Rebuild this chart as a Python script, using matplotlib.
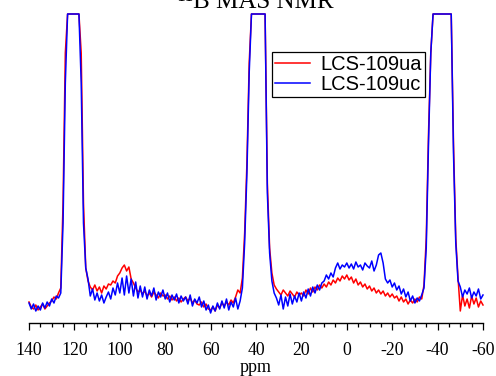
import numpy as np
import matplotlib
matplotlib.use("Agg")
import matplotlib.pyplot as plt
from matplotlib.ticker import MultipleLocator

plt.rcParams['axes.unicode_minus'] = False

# chemical shift axis, 1 ppm steps from 140 to -60
ppm = np.arange(140, -61, -1)

# LCS-109ua (red), intensities in arbitrary units (plot clipped at 309)
ua = [
    21, 16, 14, 18, 13, 16, 19, 14, 17, 20,            # 140..131
    22, 26, 24, 30, 35, 120, 270, 330, 2000, 3000,     # 130..121
    3000, 2000, 380, 270, 120, 55, 42, 36, 33, 38,     # 120..111
    32, 36, 30, 37, 34, 39, 38, 42, 40, 47,            # 110..101
    50, 55, 58, 52, 56, 44, 40, 35, 31, 33,            # 100..91
    29, 32, 27, 30, 26, 31, 28, 25, 30, 27,            # 90..81
    28, 24, 27, 23, 26, 22, 25, 21, 24, 26,            # 80..71
    22, 25, 20, 23, 19, 18, 21, 16, 19, 14,            # 70..61
    13, 16, 12, 18, 15, 20, 17, 21, 18, 23,            # 60..51
    20, 26, 33, 30, 45, 90, 160, 260, 330, 2000,       # 50..41
    3000, 3000, 2000, 1000, 310, 140, 75, 50, 38, 34,  # 40..31
    31, 28, 33, 30, 27, 32, 29, 26, 31, 28,            # 30..21
    30, 27, 33, 29, 35, 31, 36, 33, 38, 35,            # 20..11
    39, 36, 41, 38, 43, 40, 45, 42, 47, 44,            # 10..1
    48, 43, 46, 40, 44, 38, 41, 36, 39, 34,            # 0..-9
    37, 32, 35, 30, 33, 29, 32, 27, 30, 26,            # -10..-19
    29, 25, 27, 22, 26, 21, 24, 19, 23, 20,            # -20..-29
    24, 21, 26, 24, 38, 85, 190, 270, 500, 3000,       # -30..-39
    3000, 3000, 3000, 3000, 3000, 2000, 320, 180, 85, 45,  # -40..-49
    12, 28, 17, 24, 15, 27, 19, 25, 16, 22,            # -50..-59
    18,                                                # -60
]

# LCS-109uc (blue)
uc = [
    20, 14, 19, 12, 17, 13, 20, 15, 21, 17,            # 140..131
    24, 20, 27, 25, 30, 100, 240, 320, 2000, 3000,     # 130..121
    3000, 2000, 350, 240, 100, 55, 44, 27, 34, 23,     # 120..111
    30, 22, 28, 20, 26, 31, 24, 35, 28, 40,            # 110..101
    30, 45, 28, 47, 30, 44, 27, 41, 25, 37,            # 100..91
    26, 36, 24, 33, 27, 35, 23, 31, 26, 33,            # 90..81
    24, 30, 21, 28, 23, 29, 20, 27, 22, 26,            # 80..71
    19, 28, 17, 24, 20, 26, 16, 22, 13, 18,            # 70..61
    10, 17, 12, 20, 14, 22, 15, 24, 13, 21,            # 60..51
    16, 25, 14, 22, 35, 80, 150, 250, 320, 2000,       # 50..41
    3000, 3000, 2000, 1000, 310, 130, 70, 42, 30, 25,  # 40..31
    18, 28, 14, 26, 17, 29, 19, 27, 21, 30,            # 30..21
    22, 31, 25, 34, 27, 36, 30, 38, 33, 40,            # 20..11
    42, 48, 44, 50, 46, 55, 60, 54, 58, 56,            # 10..1
    60, 55, 59, 54, 61, 56, 58, 53, 60, 57,            # 0..-9
    55, 62, 52, 58, 68, 70, 60, 44, 40, 43,            # -10..-19
    36, 40, 33, 37, 29, 34, 26, 31, 22, 27,            # -20..-29
    20, 25, 22, 28, 35, 75, 180, 270, 500, 3000,       # -30..-39
    3000, 3000, 3000, 3000, 3000, 2000, 320, 170, 80, 42,  # -40..-49
    36, 26, 33, 29, 35, 25, 31, 27, 34, 24,            # -50..-59
    28,                                                # -60
]

labels = ["LCS-109ua", "LCS-109uc"]
colors = ["#ff0000", "#0000ff"]
title = "\u00b9\u00b9B MAS NMR"
ytop = 309

W, H = 496, 376
fig = plt.figure(figsize=(W / 100, H / 100), dpi=100)
ax = fig.add_axes([29 / W, (H - 323) / H, 454 / W, (323 - 14) / H])

for series, lab, col in zip([ua, uc], labels, colors):
    y = np.minimum(np.asarray(series, dtype=float), ytop)
    ax.plot(ppm, y, color=col, lw=1.1, label=lab, clip_on=False)

ax.set_xlim(140, -60)
ax.set_ylim(0, ytop)
for s in ["left", "right", "top"]:
    ax.spines[s].set_visible(False)
ax.spines["bottom"].set_linewidth(1.0)
ax.set_yticks([])
ax.xaxis.set_major_locator(MultipleLocator(20))
ax.xaxis.set_minor_locator(MultipleLocator(5))
ax.tick_params(axis="x", which="major", length=5, width=0.9, direction="out", pad=9)
ax.tick_params(axis="x", which="minor", length=3, width=0.9, direction="out")
for t in ax.get_xticklabels():
    t.set_fontfamily("Liberation Serif")
    t.set_fontsize(12.8)
ax.set_xlabel("ppm", fontfamily="Liberation Serif", fontsize=13, labelpad=0)

fig.text(256 / W, 1 - 8 / H, title, ha="center", va="baseline",
         fontfamily="Liberation Serif", fontsize=18)

leg = ax.legend(loc="upper left", bbox_to_anchor=(271.7 / W, 1 - 51.7 / H),
                bbox_transform=fig.transFigure, borderaxespad=0,
                prop={"family": "Liberation Sans", "size": 14.5},
                handlelength=1.75, handletextpad=0.5, borderpad=0.15,
                labelspacing=0.08, fancybox=False, framealpha=1,
                edgecolor="black")
leg.get_frame().set_linewidth(0.9)

fig.savefig("out.png", dpi=100)
